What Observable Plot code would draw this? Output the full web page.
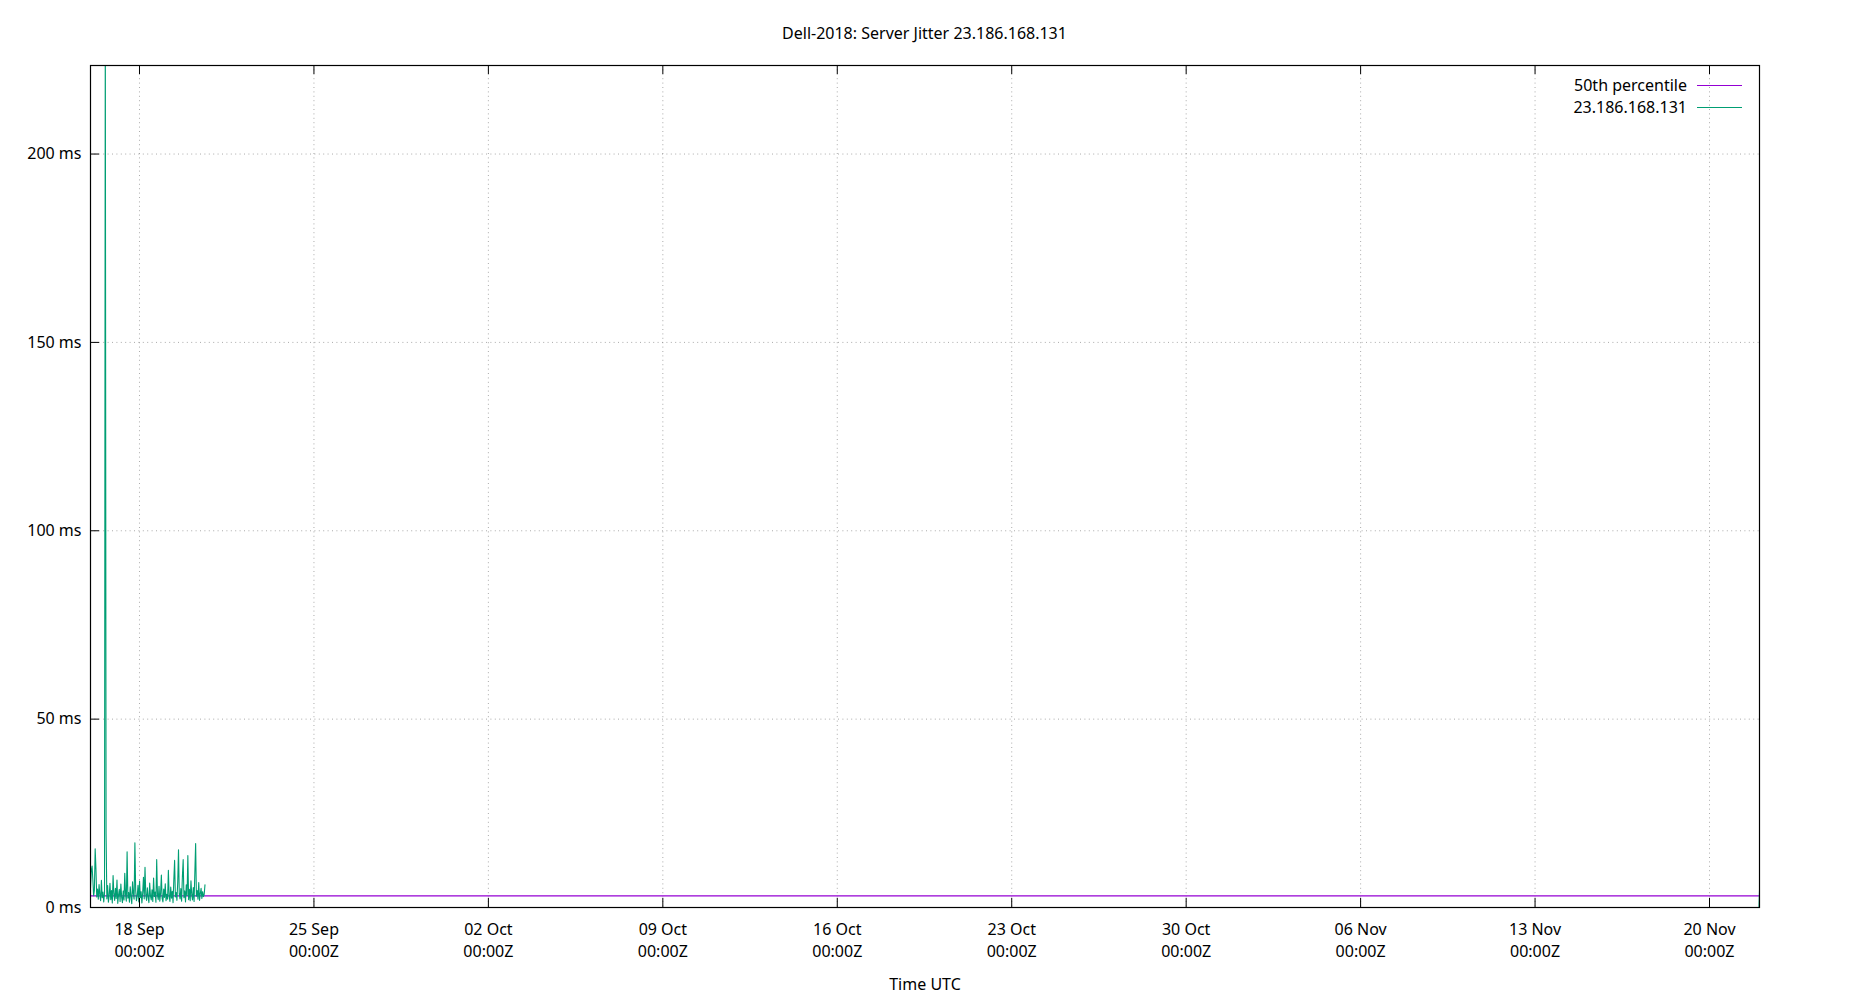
<!DOCTYPE html>
<html><head><meta charset="utf-8">
<script src="https://cdn.jsdelivr.net/npm/d3@7"></script>
<script src="https://cdn.jsdelivr.net/npm/@observablehq/plot@0.6"></script>
<style>
body{margin:0;background:#fff;font-family:"Noto Sans",sans-serif;color:#000;}
#wrap{position:relative;width:1850px;height:1000px;}
#title{position:absolute;left:90px;width:1669px;top:22px;line-height:22px;font-size:16px;text-align:center;}
.leg{position:absolute;right:163px;font-size:16px;line-height:22px;white-space:nowrap;}
.sw{position:absolute;left:1697px;width:45px;height:0;}
</style></head>
<body>
<div id="wrap">
<div id="chart"></div>
<div id="title">Dell-2018: Server Jitter 23.186.168.131</div>
<div class="leg" style="top:74px">50th percentile</div>
<div class="sw" style="top:85px;border-top:1.5px solid #9400d3"></div>
<div class="leg" style="top:96px">23.186.168.131</div>
<div class="sw" style="top:107px;border-top:1.5px solid #009e73"></div>
</div>
<script>
// ---- data ----
const seriesName = "23.186.168.131";
const startTime = "2018-09-16T00:49:00Z";
const stepMinutes = 45;
const jitterValues = [
  5.2, 9.8, 11.0, 7.5, 3.1, 4.6, 15.6, 10.2, 2.8, 4.9,
  2.2, 6.1, 3.4, 1.8, 7.2, 2.6, 4.1, 1.5, 3.8, 240,
  19.6, 2.3, 5.8, 1.4, 3.2, 6.4, 2.1, 4.5, 1.2, 8.5,
  3.6, 1.9, 5.1, 2.4, 7.3, 1.1, 3.3, 4.8, 1.6, 6.2,
  2.7, 1.3, 4.4, 2.0, 9.1, 3.5, 1.7, 14.8, 2.5, 4.0,
  1.4, 5.5, 2.9, 1.0, 6.8, 3.7, 2.2, 17.2, 4.6, 1.8,
  3.0, 5.9, 1.5, 7.0, 2.6, 4.2, 1.2, 3.9, 8.0, 2.3,
  10.7, 3.4, 1.9, 5.2, 2.8, 1.3, 6.5, 3.1, 2.0, 4.7,
  1.6, 7.8, 2.9, 4.1, 1.4, 12.7, 3.3, 2.1, 5.6, 1.7,
  3.8, 8.6, 2.4, 1.5, 4.9, 2.7, 6.3, 1.8, 3.5, 2.2,
  9.9, 3.0, 1.6, 5.4, 2.5, 4.3, 1.3, 7.4, 12.5, 2.8,
  4.0, 1.9, 6.7, 15.3, 3.6, 2.3, 5.0, 1.7, 8.2, 12.7,
  2.6, 4.4, 1.5, 6.0, 3.2, 13.8, 2.1, 4.8, 1.8, 7.1,
  3.4, 2.0, 5.3, 1.6, 9.4, 17.0, 3.0, 4.5, 2.2, 6.6,
  1.9, 3.7, 5.1, 2.4, 4.2, 2.9, 3.5, 6.0
];
const tailTimes = ["2018-11-21T23:40:00Z", "2018-11-22T00:09:00Z"];
const tailValues = [0.2, 4.5];
const medianValue = 3.1;
const xDomain = ["2018-09-16T00:49:00Z", "2018-11-22T00:09:00Z"];
const yDomain = [0, 223.5];
const xTickDates = ["2018-09-18","2018-09-25","2018-10-02","2018-10-09","2018-10-16","2018-10-23","2018-10-30","2018-11-06","2018-11-13","2018-11-20"];
const xTickLabels = ["18 Sep","25 Sep","02 Oct","09 Oct","16 Oct","23 Oct","30 Oct","06 Nov","13 Nov","20 Nov"];
const yTicks = [0, 50, 100, 150, 200];
const yGrid = [50, 100, 150, 200];

// ---- build table ----
const t0 = new Date(startTime).getTime();
const rows = jitterValues.map((v, i) => ({t: new Date(t0 + i * stepMinutes * 60000), v, seg: 0}));
tailTimes.forEach((t, i) => rows.push({t: new Date(t), v: tailValues[i], seg: 1}));
const xt = xTickDates.map((d, i) => ({d: new Date(d + "T00:00:00Z"), label: xTickLabels[i] + "\n00:00Z"}));

const W = 1850, H = 1000, mL = 90, mR = 91, mT = 65, mB = 93;
const pw = W - mL - mR, ph = H - mT - mB, tk = 9;

const chart = Plot.plot({
  width: W, height: H,
  marginLeft: mL, marginRight: mR, marginTop: mT, marginBottom: mB,
  style: {fontFamily: "'Noto Sans', sans-serif", fontSize: "16px", color: "#000", background: "#fff"},
  x: {type: "utc", domain: xDomain.map(d => new Date(d)), axis: null},
  y: {domain: yDomain, axis: null},
  marks: [
    Plot.gridX(xt, {x: "d", stroke: "#888", strokeOpacity: 0.7, strokeWidth: 1, strokeDasharray: "1,3.4"}),
    Plot.gridY(yGrid, {stroke: "#888", strokeOpacity: 0.7, strokeWidth: 1, strokeDasharray: "1,3.4"}),
    Plot.ruleY([medianValue], {stroke: "#9400d3", strokeWidth: 1.2}),
    Plot.lineY(rows, {x: "t", y: "v", z: "seg", stroke: "#009e73", strokeWidth: 1.1, clip: true}),
    Plot.ruleX(xt, {x: "d", insetTop: ph - tk, stroke: "#000"}),
    Plot.ruleX(xt, {x: "d", insetBottom: ph - tk, stroke: "#000"}),
    Plot.ruleY(yTicks, {insetRight: pw - tk, stroke: "#000"}),
    Plot.frame({stroke: "#000", strokeWidth: 1.2}),
    Plot.text(xt, {x: "d", text: "label", frameAnchor: "bottom", dy: 49, lineHeight: 1.375, fill: "#000", fontSize: 16}),
    Plot.text(yTicks, {y: d => d, text: d => `${d} ms`, frameAnchor: "left", dx: -9, textAnchor: "end", fill: "#000", fontSize: 16}),
    Plot.text(["Time UTC"], {text: d => d, frameAnchor: "bottom", dy: 82, fill: "#000", fontSize: 16})
  ]
});
document.getElementById("chart").appendChild(chart);
</script>
</body></html>
